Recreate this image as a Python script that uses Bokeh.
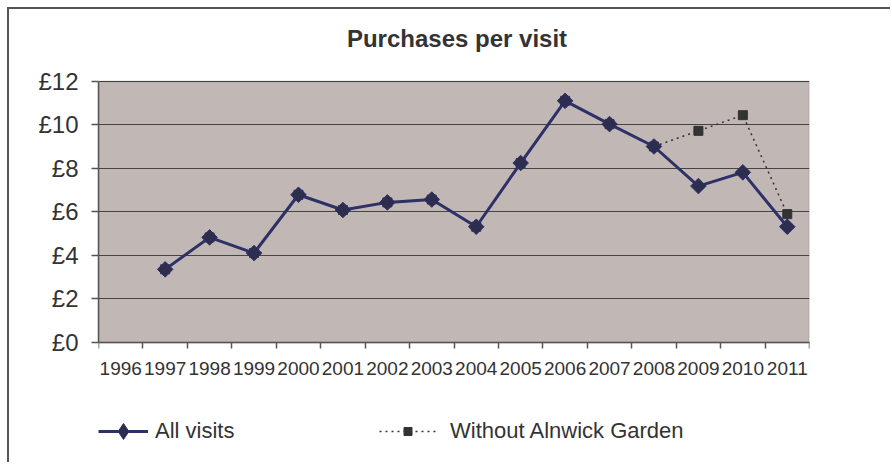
from bokeh.plotting import figure
from bokeh.models import (FixedTicker, PrintfTickFormatter, Legend, LegendItem, Label,
                          Range1d, ColumnDataSource, BoxAnnotation, Grid)
from bokeh.embed import file_html
from bokeh.resources import INLINE
import math

# ---- data ----
title = "Purchases per visit"
year_ticks = list(range(1996, 2012))
all_years = [1997, 1998, 1999, 2000, 2001, 2002, 2003, 2004, 2005, 2006, 2007, 2008, 2009, 2010, 2011]
all_visits = [3.36, 4.83, 4.11, 6.79, 6.09, 6.44, 6.57, 5.32, 8.25, 11.11, 10.04, 9.01, 7.19, 7.82, 5.32]
without_alnwick = [3.36, 4.83, 4.11, 6.79, 6.09, 6.44, 6.57, 5.32, 8.25, 11.11, 10.04, 9.01, 9.73, 10.45, 5.90]
y_ticks = [0, 2, 4, 6, 8, 10, 12]

FONT = "Liberation Sans"
TXT = "#333333"
NAVY = "#2E3068"

x0, x1 = year_ticks[0] - 0.5, year_ticks[-1] + 0.5
y0, y1 = y_ticks[0], y_ticks[-1]
# the frame also covers the title band above and the legend band below the plot area
y_view = (-5.43, 15.31)

src_all = ColumnDataSource(dict(x=all_years, y=all_visits))
src_wo = ColumnDataSource(dict(x=all_years, y=without_alnwick))

p = figure(width=883, height=455, output_backend="svg", toolbar_location=None,
           x_range=Range1d(x0, x1), y_range=Range1d(*y_view),
           min_border_left=89, min_border_right=83, min_border_top=0, min_border_bottom=4)
p.margin = (7, 0, 0, 7)
p.styles = {"border-top": "2px solid #555555", "border-left": "2px solid #555555"}
p.background_fill_color = "white"
p.border_fill_color = "white"
p.outline_line_color = None

# plot area (grey) with its border
p.add_layout(BoxAnnotation(left=x0, right=x1, bottom=y0, top=y1, level="underlay",
                           fill_color="#C1B8B5", fill_alpha=1,
                           line_color="#8C8282", line_width=2))

# title
p.add_layout(Label(x=(x0 + x1) / 2, y=y1, x_offset=3, y_offset=43, text=title,
                   text_align="center", text_baseline="alphabetic",
                   text_font=FONT, text_font_size="24px", text_font_style="bold",
                   text_color=TXT))

# x axis at y=0: labels at category centres, ticks at boundaries
xa = p.xaxis[0]
xa.fixed_location = 0
xa.ticker = FixedTicker(ticks=year_ticks, minor_ticks=[y - 0.5 for y in year_ticks] + [x1])
xa.formatter = PrintfTickFormatter(format="%d")
xa.major_tick_in = 0
xa.major_tick_out = 0
xa.minor_tick_in = 0
xa.minor_tick_out = 6
xa.minor_tick_line_color = "#555555"
xa.minor_tick_line_width = 1.5
xa.axis_line_color = "#555555"
xa.axis_line_width = 1.5
xa.major_label_text_font = FONT
xa.major_label_text_font_size = "19px"
xa.major_label_text_color = TXT
xa.major_label_standoff = 14

ya = p.yaxis[0]
ya.bounds = (y0, y1)
ya.ticker = FixedTicker(ticks=y_ticks)
ya.formatter = PrintfTickFormatter(format="£%d")
ya.major_tick_in = 0
ya.major_tick_out = 7
ya.major_tick_line_color = "#555555"
ya.major_tick_line_width = 1.5
ya.minor_tick_line_color = None
ya.axis_line_color = "#555555"
ya.axis_line_width = 1.5
ya.major_label_text_font = FONT
ya.major_label_text_font_size = "24px"
ya.major_label_text_color = TXT
ya.major_label_standoff = 13

p.xgrid.visible = False
p.ygrid.visible = False
p.add_layout(Grid(dimension=1, ticker=FixedTicker(ticks=y_ticks), bounds=(y0, y1),
                  grid_line_color="#444444", grid_line_width=1, level="underlay"))

# series
l2 = p.line("x", "y", source=src_wo, line_color="#333333", line_width=1.5, line_dash="2 4")
s2 = p.scatter("x", "y", source=src_wo, marker="square", size=9, fill_color="#333333", line_color="#333333")
l1 = p.line("x", "y", source=src_all, line_color=NAVY, line_width=3)
s1 = p.scatter("x", "y", source=src_all, marker="square", angle=math.pi / 4, size=11,
               fill_color="#2D2D50", line_color=NAVY, line_width=1)
# legend key for the diamonds (legend keys are drawn unrotated); hidden in the plot
s1_key = p.scatter("x", "y", source=src_all, marker="diamond", fill_color="#2D2D50",
                   line_color=NAVY, line_width=1, visible=False)


def style_legend(lg, gw, gh, standoff):
    lg.orientation = "horizontal"
    lg.border_line_color = None
    lg.background_fill_alpha = 0
    lg.padding = 0
    lg.margin = 0
    lg.glyph_width = gw
    lg.glyph_height = gh
    lg.label_standoff = standoff
    lg.label_text_font = FONT
    lg.label_text_font_size = "22px"
    lg.label_text_color = TXT


leg_a = Legend(items=[LegendItem(label="All visits", renderers=[l1, s1_key])], location=(0, 9))
style_legend(leg_a, 50, 40, 7)
leg_b = Legend(items=[LegendItem(label="Without Alnwick Garden", renderers=[l2, s2])], location=(281, 16))
style_legend(leg_b, 57, 20, 14)
p.add_layout(leg_a, "center")
p.add_layout(leg_b, "center")

open("out.html", "w").write(file_html(p, INLINE))
